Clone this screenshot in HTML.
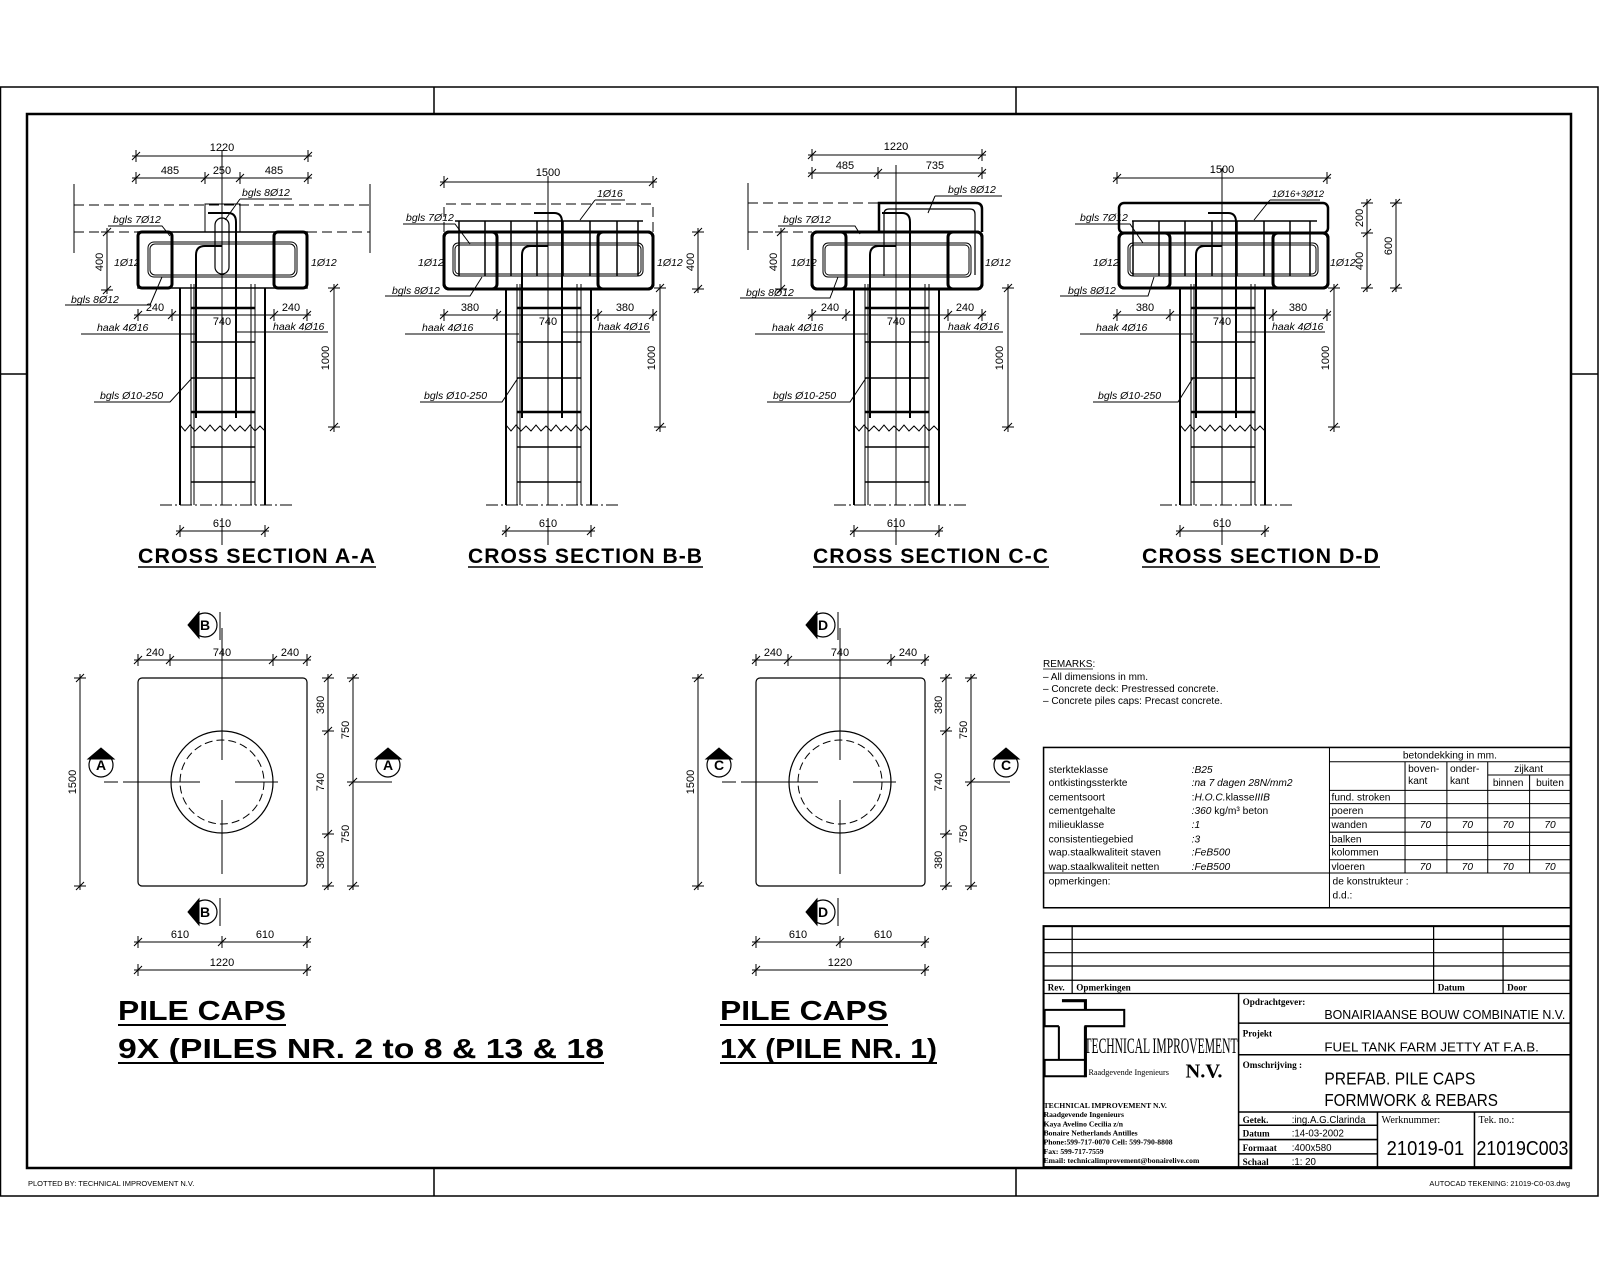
<!DOCTYPE html>
<html><head><meta charset="utf-8"><style>
html,body{margin:0;padding:0;background:#fff;}
svg{display:block;}
text{font-family:"Liberation Sans",sans-serif;fill:#000;stroke:none;}
.d{font-size:11px;}
.l{font-size:10.5px;font-style:italic;}
.tt{font-size:21px;font-weight:bold;letter-spacing:1px;}
.pc{font-size:28px;font-weight:bold;}
.s{font-size:10px;}
.sb{font-size:9px;font-family:"Liberation Serif",serif;font-weight:bold;}
</style></head><body>
<svg width="1600" height="1280" viewBox="0 0 1600 1280" xmlns="http://www.w3.org/2000/svg" fill="none" stroke="#000">
<defs>
<path id="th" d="M-4,4 L4,-4 M0,-6 V6" stroke-width="1"/>
<path id="tv" d="M-4,4 L4,-4 M-6,0 H6" stroke-width="1"/>
<g id="col">
<path d="M-42,288 V505 M43,288 V505" stroke-width="2"/>
<path d="M-31,284 V505 M-28,284 V505 M29,284 V505 M33,284 V505" stroke-width="1"/>
<path d="M-31,342 H33 M-31,378 H33 M-31,447 H33 M-31,482 H33" stroke-width="1.5"/>
<path d="M-31,308 H33 M-31,412 H33" stroke-width="2.5"/>
<path d="M-42,425 l5,6 l5,-6 l5,6 l5,-5 l5,5 l5,-6 l5,6 l5,-5 l5,5 l5,-6 l5,6 l5,-5 l5,5 l5,-6 l5,6 l5,-5 l5,5" stroke-width="1"/>
<path d="M0,288 V505" stroke-width="1"/>
<path d="M-62,505 H72" stroke-width="1" stroke-dasharray="12 3 2 3"/>
<path d="M-46,531 H47 M0,518 V545" stroke-width="1"/>
<use href="#th" x="-42" y="531"/><use href="#th" x="43" y="531"/>
<path d="M112,284 V432" stroke-width="1"/>
<use href="#tv" x="112" y="288"/><use href="#tv" x="112" y="427"/>
<path d="M-26,418 V255 Q-26,246 -17,246 H0 M14,418 V222 Q14,213 6,213 H-14" stroke-width="2"/>
</g>
</defs>

<path d="M0.5,87 H1598 V1196 H0.5 Z" stroke-width="1.5"/>
<rect x="27" y="114" width="1544" height="1054" stroke-width="2.5"/>
<path d="M434,87 V114 M1016,87 V114 M434,1168 V1196 M1016,1168 V1196 M0,374 H27 M1571,374 H1598" stroke-width="1.5"/>
<text x="28" y="1186" style="font-size:7.5px">PLOTTED BY:  TECHNICAL IMPROVEMENT N.V.</text>
<text x="1570" y="1186" text-anchor="end" style="font-size:7.5px">AUTOCAD TEKENING:  21019-C0-03.dwg</text>

<!-- SECTION A -->
<g transform="translate(222,0)"><use href="#col"/></g>
<path d="M132,156 H312 M132,178 H312 M222,150 V288" stroke-width="1"/>
<use href="#th" x="136" y="156"/><use href="#th" x="308" y="156"/>
<use href="#th" x="136" y="178"/><use href="#th" x="205" y="178"/><use href="#th" x="240" y="178"/><use href="#th" x="308" y="178"/>
<path d="M74,205 H370 M74,232 H138 M307,232 H370" stroke-width="1" stroke-dasharray="10 5"/>
<path d="M74,184 V253 M370,184 V253" stroke-width="1"/>
<path d="M205,232 V204 H240 V232" stroke-width="1"/>
<rect x="138" y="232" width="169" height="56" stroke-width="1.5"/>
<rect x="138" y="232" width="34" height="56" rx="4" stroke-width="3"/>
<rect x="274" y="232" width="33" height="56" rx="4" stroke-width="3"/>
<rect x="148" y="242" width="149" height="35" rx="6" stroke-width="1"/>
<rect x="150" y="244" width="145" height="31" rx="5" stroke-width="1"/>
<rect x="215" y="218" width="14" height="56" rx="7" stroke-width="1.2"/>
<path d="M107,228 V294" stroke-width="1"/><use href="#tv" x="107" y="232"/><use href="#tv" x="107" y="290"/>
<path d="M134,315 H311" stroke-width="1"/>
<use href="#th" x="138" y="315"/><use href="#th" x="172" y="315"/><use href="#th" x="274" y="315"/><use href="#th" x="307" y="315"/>
<path d="M240,199 H292 M240,199 L225,220 M108,226 H162 L170,236 M65,305 H150 L162,277 M81,334 H195 M236,332 H328 M94,402 H170 L192,378" stroke-width="1"/>
<text class="d" x="222" y="151" text-anchor="middle">1220</text>
<text class="d" x="170" y="174" text-anchor="middle">485</text>
<text class="d" x="222" y="174" text-anchor="middle">250</text>
<text class="d" x="274" y="174" text-anchor="middle">485</text>
<text class="l" x="242" y="196">bgls 8Ø12</text>
<text class="l" x="113" y="223">bgls 7Ø12</text>
<text class="l" x="114" y="266">1Ø12</text>
<text class="l" x="311" y="266">1Ø12</text>
<text class="d" transform="translate(103,262) rotate(-90)" text-anchor="middle">400</text>
<text class="l" x="71" y="303">bgls 8Ø12</text>
<text class="d" x="155" y="311" text-anchor="middle">240</text>
<text class="d" x="222" y="325" text-anchor="middle">740</text>
<text class="d" x="291" y="311" text-anchor="middle">240</text>
<text class="l" x="97" y="331">haak 4Ø16</text>
<text class="l" x="273" y="330">haak 4Ø16</text>
<text class="d" transform="translate(329,358) rotate(-90)" text-anchor="middle">1000</text>
<text class="l" x="100" y="399">bgls Ø10-250</text>
<text class="d" x="222" y="527" text-anchor="middle">610</text>
<text class="tt" x="138" y="563" textLength="238" lengthAdjust="spacingAndGlyphs">CROSS SECTION A-A</text>
<path d="M138,567 H376" stroke-width="1.5"/>

<!-- SECTION B -->
<g transform="translate(548,0)"><use href="#col"/></g>
<path d="M440,182 H657 M548,176 V288" stroke-width="1"/>
<use href="#th" x="444" y="182"/><use href="#th" x="653" y="182"/>
<path d="M444,232 V204 H653 V232" stroke-width="1" stroke-dasharray="10 5"/>
<rect x="444" y="232" width="209" height="57" rx="5" stroke-width="3"/>
<rect x="444" y="232" width="53" height="57" rx="5" stroke-width="3"/>
<rect x="598" y="232" width="55" height="57" rx="5" stroke-width="3"/>
<path d="M455,221 H643" stroke-width="1.5"/>
<path d="M459,221 V276 M485,221 V276 M511,221 V276 M537,221 V276 M563,221 V276 M590,221 V276 M617,221 V276 M638,221 V276" stroke-width="1.5"/>
<rect x="453" y="243" width="190" height="33" rx="5" stroke-width="1"/>
<rect x="455" y="245" width="186" height="29" rx="4" stroke-width="1"/>
<path d="M698,228 V293" stroke-width="1"/><use href="#tv" x="698" y="232"/><use href="#tv" x="698" y="289"/>
<path d="M440,315 H657" stroke-width="1"/>
<use href="#th" x="444" y="315"/><use href="#th" x="497" y="315"/><use href="#th" x="598" y="315"/><use href="#th" x="653" y="315"/>
<path d="M595,200 H625 M595,200 L580,220 M403,224 H455 L470,244 M385,296 H470 L482,277 M405,334 H519 M562,332 H650 M420,402 H502 L518,378" stroke-width="1"/>
<text class="d" x="548" y="176" text-anchor="middle">1500</text>
<text class="l" x="597" y="197">1Ø16</text>
<text class="l" x="406" y="221">bgls 7Ø12</text>
<text class="l" x="418" y="266">1Ø12</text>
<text class="l" x="657" y="266">1Ø12</text>
<text class="d" transform="translate(694,262) rotate(-90)" text-anchor="middle">400</text>
<text class="l" x="392" y="294">bgls 8Ø12</text>
<text class="d" x="470" y="311" text-anchor="middle">380</text>
<text class="d" x="548" y="325" text-anchor="middle">740</text>
<text class="d" x="625" y="311" text-anchor="middle">380</text>
<text class="l" x="422" y="331">haak 4Ø16</text>
<text class="l" x="598" y="330">haak 4Ø16</text>
<text class="d" transform="translate(655,358) rotate(-90)" text-anchor="middle">1000</text>
<text class="l" x="424" y="399">bgls Ø10-250</text>
<text class="d" x="548" y="527" text-anchor="middle">610</text>
<text class="tt" x="468" y="563" textLength="235" lengthAdjust="spacingAndGlyphs">CROSS SECTION B-B</text>
<path d="M468,567 H703" stroke-width="1.5"/>

<!-- SECTION C -->
<g transform="translate(896,0)"><use href="#col"/></g>
<path d="M808,155 H986 M808,173 H986 M896,165 V288" stroke-width="1"/>
<use href="#th" x="812" y="155"/><use href="#th" x="982" y="155"/>
<use href="#th" x="812" y="173"/><use href="#th" x="878" y="173"/><use href="#th" x="982" y="173"/>
<path d="M748,203 H879 M748,232 H812" stroke-width="1" stroke-dasharray="10 5"/>
<path d="M748,183 V250" stroke-width="1"/>
<path d="M879,232 V203 H976 Q982,203 982,209 V232" stroke-width="2.5"/>
<rect x="812" y="232" width="170" height="57" rx="5" stroke-width="3"/>
<rect x="812" y="232" width="34" height="57" rx="5" stroke-width="3"/>
<rect x="948" y="232" width="34" height="57" rx="5" stroke-width="3"/>
<rect x="823" y="243" width="148" height="34" rx="5" stroke-width="1"/>
<rect x="825" y="245" width="144" height="30" rx="4" stroke-width="1"/>
<path d="M884,276 V214 Q884,209 889,209 H970 Q975,209 975,214 V275" stroke-width="1.2"/>
<path d="M781,228 V293" stroke-width="1"/><use href="#tv" x="781" y="232"/><use href="#tv" x="781" y="289"/>
<path d="M808,315 H986" stroke-width="1"/>
<use href="#th" x="812" y="315"/><use href="#th" x="846" y="315"/><use href="#th" x="948" y="315"/><use href="#th" x="982" y="315"/>
<path d="M935,196 H1002 M935,196 L928,213 M778,226 H855 L860,234 M740,298 H830 L838,277 M755,334 H868 M909,332 H1003 M767,402 H850 L866,378" stroke-width="1"/>
<text class="d" x="896" y="150" text-anchor="middle">1220</text>
<text class="d" x="845" y="169" text-anchor="middle">485</text>
<text class="d" x="935" y="169" text-anchor="middle">735</text>
<text class="l" x="948" y="193">bgls 8Ø12</text>
<text class="l" x="783" y="223">bgls 7Ø12</text>
<text class="l" x="791" y="266">1Ø12</text>
<text class="l" x="985" y="266">1Ø12</text>
<text class="d" transform="translate(777,262) rotate(-90)" text-anchor="middle">400</text>
<text class="l" x="746" y="296">bgls 8Ø12</text>
<text class="d" x="830" y="311" text-anchor="middle">240</text>
<text class="d" x="896" y="325" text-anchor="middle">740</text>
<text class="d" x="965" y="311" text-anchor="middle">240</text>
<text class="l" x="772" y="331">haak 4Ø16</text>
<text class="l" x="948" y="330">haak 4Ø16</text>
<text class="d" transform="translate(1003,358) rotate(-90)" text-anchor="middle">1000</text>
<text class="l" x="773" y="399">bgls Ø10-250</text>
<text class="d" x="896" y="527" text-anchor="middle">610</text>
<text class="tt" x="813" y="563" textLength="236" lengthAdjust="spacingAndGlyphs">CROSS SECTION C-C</text>
<path d="M813,567 H1049" stroke-width="1.5"/>

<!-- SECTION D -->
<g transform="translate(1222,0)"><use href="#col"/></g>
<path d="M1113,178 H1331 M1222,168 V288" stroke-width="1"/>
<use href="#th" x="1117" y="178"/><use href="#th" x="1327" y="178"/>
<rect x="1119" y="203" width="209" height="30" rx="5" stroke-width="2.5"/>
<rect x="1119" y="233" width="209" height="55" rx="5" stroke-width="3"/>
<rect x="1119" y="233" width="51" height="55" rx="5" stroke-width="3"/>
<rect x="1273" y="233" width="55" height="55" rx="5" stroke-width="3"/>
<path d="M1132,221 H1317" stroke-width="1.5"/>
<path d="M1133,221 V276 M1159,221 V276 M1185,221 V276 M1212,221 V276 M1237,221 V276 M1264,221 V276 M1290,221 V276 M1310,221 V276" stroke-width="1.5"/>
<rect x="1128" y="243" width="190" height="33" rx="5" stroke-width="1"/>
<rect x="1130" y="245" width="186" height="29" rx="4" stroke-width="1"/>
<path d="M1367,199 V292 M1396,199 V292" stroke-width="1"/>
<use href="#tv" x="1367" y="203"/><use href="#tv" x="1367" y="233"/><use href="#tv" x="1367" y="288"/>
<use href="#tv" x="1396" y="203"/><use href="#tv" x="1396" y="288"/>
<path d="M1113,315 H1331" stroke-width="1"/>
<use href="#th" x="1117" y="315"/><use href="#th" x="1170" y="315"/><use href="#th" x="1273" y="315"/><use href="#th" x="1327" y="315"/>
<path d="M1270,200 H1320 M1270,200 L1254,220 M1075,224 H1130 L1143,243 M1060,296 H1148 L1154,277 M1080,334 H1193 M1237,332 H1325 M1093,402 H1178 L1193,378" stroke-width="1"/>
<text class="d" x="1222" y="173" text-anchor="middle">1500</text>
<text class="l" x="1272" y="197" style="font-size:9.5px">1Ø16+3Ø12</text>
<text class="l" x="1080" y="221">bgls 7Ø12</text>
<text class="l" x="1093" y="266">1Ø12</text>
<text class="l" x="1330" y="266">1Ø12</text>
<text class="d" transform="translate(1363,218) rotate(-90)" text-anchor="middle">200</text>
<text class="d" transform="translate(1363,261) rotate(-90)" text-anchor="middle">400</text>
<text class="d" transform="translate(1392,246) rotate(-90)" text-anchor="middle">600</text>
<text class="l" x="1068" y="294">bgls 8Ø12</text>
<text class="d" x="1145" y="311" text-anchor="middle">380</text>
<text class="d" x="1222" y="325" text-anchor="middle">740</text>
<text class="d" x="1298" y="311" text-anchor="middle">380</text>
<text class="l" x="1096" y="331">haak 4Ø16</text>
<text class="l" x="1272" y="330">haak 4Ø16</text>
<text class="d" transform="translate(1329,358) rotate(-90)" text-anchor="middle">1000</text>
<text class="l" x="1098" y="399">bgls Ø10-250</text>
<text class="d" x="1222" y="527" text-anchor="middle">610</text>
<text class="tt" x="1142" y="563" textLength="238" lengthAdjust="spacingAndGlyphs">CROSS SECTION D-D</text>
<path d="M1142,567 H1380" stroke-width="1.5"/>

<!-- PLAN 1 -->
<g id="plan">
<rect x="138" y="678" width="169" height="208" rx="4" stroke-width="1.2"/>
<circle cx="222" cy="782" r="51" stroke-width="1.2"/>
<circle cx="222" cy="782" r="42" stroke-width="1" stroke-dasharray="8 4"/>
<path d="M222,628 V760 M222,800 V874 M123,782 H200 M235,782 H278" stroke-width="1"/>
<path d="M134,660 H311 M80,674 V890 M328,674 V890 M353,674 V890 M134,942 H311 M134,970 H311" stroke-width="1"/>
<use href="#th" x="138" y="660"/><use href="#th" x="170" y="660"/><use href="#th" x="273" y="660"/><use href="#th" x="307" y="660"/>
<use href="#tv" x="80" y="678"/><use href="#tv" x="80" y="886"/>
<use href="#tv" x="328" y="678"/><use href="#tv" x="328" y="731"/><use href="#tv" x="328" y="834"/><use href="#tv" x="328" y="886"/>
<use href="#tv" x="353" y="678"/><use href="#tv" x="353" y="782"/><use href="#tv" x="353" y="886"/>
<use href="#th" x="138" y="942"/><use href="#th" x="222" y="942"/><use href="#th" x="307" y="942"/>
<use href="#th" x="138" y="970"/><use href="#th" x="307" y="970"/>
<circle cx="205" cy="625" r="12" stroke-width="1.2"/><path d="M188,625 L199,612 L199,638 Z" fill="#000"/>
<circle cx="205" cy="912" r="12" stroke-width="1.2"/><path d="M188,912 L199,899 L199,925 Z" fill="#000"/>
<circle cx="101" cy="765" r="12" stroke-width="1.2"/><path d="M101,748 L88,759 L114,759 Z" fill="#000"/>
<circle cx="388" cy="765" r="12" stroke-width="1.2"/><path d="M388,748 L375,759 L401,759 Z" fill="#000"/>
<path d="M220,612 V640 M220,898 V926 M104,782 H118 M375,782 H392 M353,782 H378" stroke-width="1"/>
</g>
<text class="d" x="155" y="656" text-anchor="middle">240</text>
<text class="d" x="222" y="656" text-anchor="middle">740</text>
<text class="d" x="290" y="656" text-anchor="middle">240</text>
<text class="d" transform="translate(76,782) rotate(-90)" text-anchor="middle">1500</text>
<text class="d" transform="translate(324,705) rotate(-90)" text-anchor="middle">380</text>
<text class="d" transform="translate(324,782) rotate(-90)" text-anchor="middle">740</text>
<text class="d" transform="translate(324,860) rotate(-90)" text-anchor="middle">380</text>
<text class="d" transform="translate(349,730) rotate(-90)" text-anchor="middle">750</text>
<text class="d" transform="translate(349,834) rotate(-90)" text-anchor="middle">750</text>
<text class="d" x="180" y="938" text-anchor="middle">610</text>
<text class="d" x="265" y="938" text-anchor="middle">610</text>
<text class="d" x="222" y="966" text-anchor="middle">1220</text>
<text x="205" y="630" text-anchor="middle" style="font-size:14px;font-weight:bold">B</text>
<text x="205" y="917" text-anchor="middle" style="font-size:14px;font-weight:bold">B</text>
<text x="101" y="770" text-anchor="middle" style="font-size:14px;font-weight:bold">A</text>
<text x="388" y="770" text-anchor="middle" style="font-size:14px;font-weight:bold">A</text>

<!-- PLAN 2 -->
<g transform="translate(618,0)"><use href="#plan"/></g>
<text class="d" x="773" y="656" text-anchor="middle">240</text>
<text class="d" x="840" y="656" text-anchor="middle">740</text>
<text class="d" x="908" y="656" text-anchor="middle">240</text>
<text class="d" transform="translate(694,782) rotate(-90)" text-anchor="middle">1500</text>
<text class="d" transform="translate(942,705) rotate(-90)" text-anchor="middle">380</text>
<text class="d" transform="translate(942,782) rotate(-90)" text-anchor="middle">740</text>
<text class="d" transform="translate(942,860) rotate(-90)" text-anchor="middle">380</text>
<text class="d" transform="translate(967,730) rotate(-90)" text-anchor="middle">750</text>
<text class="d" transform="translate(967,834) rotate(-90)" text-anchor="middle">750</text>
<text class="d" x="798" y="938" text-anchor="middle">610</text>
<text class="d" x="883" y="938" text-anchor="middle">610</text>
<text class="d" x="840" y="966" text-anchor="middle">1220</text>
<text x="823" y="630" text-anchor="middle" style="font-size:14px;font-weight:bold">D</text>
<text x="823" y="917" text-anchor="middle" style="font-size:14px;font-weight:bold">D</text>
<text x="719" y="770" text-anchor="middle" style="font-size:14px;font-weight:bold">C</text>
<text x="1006" y="770" text-anchor="middle" style="font-size:14px;font-weight:bold">C</text>

<text class="pc" x="118" y="1020" textLength="168" lengthAdjust="spacingAndGlyphs">PILE CAPS</text>
<path d="M118,1025 H286" stroke-width="2"/>
<text class="pc" x="118" y="1058" textLength="486" lengthAdjust="spacingAndGlyphs">9X (PILES NR. 2 to 8 &amp; 13 &amp; 18</text>
<path d="M118,1063 H604" stroke-width="2"/>
<text class="pc" x="720" y="1020" textLength="168" lengthAdjust="spacingAndGlyphs">PILE CAPS</text>
<path d="M720,1025 H888" stroke-width="2"/>
<text class="pc" x="720" y="1058" textLength="217" lengthAdjust="spacingAndGlyphs">1X (PILE NR. 1)</text>
<path d="M720,1063 H937" stroke-width="2"/>

<text class="s" x="1043" y="667">REMARKS:</text>
<path d="M1043,669 H1093" stroke-width="0.8"/>
<text class="s" x="1043" y="680">–  All dimensions in mm.</text>
<text class="s" x="1043" y="692">–  Concrete deck: Prestressed concrete.</text>
<text class="s" x="1043" y="704">–  Concrete piles caps: Precast concrete.</text>

<g transform="scale(1.0211)">
<rect x="1022" y="732" width="516" height="157" stroke-width="1.5"/>
<path d="M1302,732 V855 M1022,855 H1538 M1302,746 H1538 M1302,774 H1538 M1302,787 H1538 M1302,801 H1538 M1302,815 H1538 M1302,828 H1538 M1302,842 H1538 M1457,759 H1538 M1376,746 V855 M1417,746 V855 M1457,746 V855 M1498,759 V855 M1302,855 V889" stroke-width="1"/>
<g>
<text x="1027" y="757" class="s">sterkteklasse</text>
<text x="1027" y="770" class="s">ontkistingssterkte</text>
<text x="1027" y="784" class="s">cementsoort</text>
<text x="1027" y="797" class="s">cementgehalte</text>
<text x="1027" y="811" class="s">milieuklasse</text>
<text x="1027" y="825" class="s">consistentiegebied</text>
<text x="1027" y="838" class="s">wap.staalkwaliteit  staven</text>
<text x="1027" y="852" class="s">wap.staalkwaliteit  netten</text>
<text x="1167" y="757" class="s" font-style="italic">:B25</text>
<text x="1167" y="770" class="s" font-style="italic">:na 7 dagen 28N/mm2</text>
<text x="1167" y="784" class="s">:<tspan font-style="italic">H.O.C.</tspan>klasse<tspan font-style="italic">IIIB</tspan></text>
<text x="1167" y="797" class="s"><tspan font-style="italic">:360</tspan>  kg/m³  beton</text>
<text x="1167" y="811" class="s" font-style="italic">:1</text>
<text x="1167" y="825" class="s" font-style="italic">:3</text>
<text x="1167" y="838" class="s" font-style="italic">:FeB500</text>
<text x="1167" y="852" class="s" font-style="italic">:FeB500</text>
<text x="1027" y="866" class="s">opmerkingen:</text>
<text x="1420" y="743" class="s" text-anchor="middle">betondekking in mm.</text>
<text x="1379" y="756" class="s">boven-</text><text x="1379" y="768" class="s">kant</text>
<text x="1420" y="756" class="s">onder-</text><text x="1420" y="768" class="s">kant</text>
<text x="1497" y="756" class="s" text-anchor="middle">zijkant</text>
<text x="1477" y="770" class="s" text-anchor="middle">binnen</text>
<text x="1518" y="770" class="s" text-anchor="middle">buiten</text>
<text x="1304" y="784" class="s">fund. stroken</text>
<text x="1304" y="797" class="s">poeren</text>
<text x="1304" y="811" class="s">wanden</text>
<text x="1304" y="825" class="s">balken</text>
<text x="1304" y="838" class="s">kolommen</text>
<text x="1304" y="852" class="s">vloeren</text>
<text x="1396" y="811" class="s" text-anchor="middle" font-style="italic">70</text>
<text x="1437" y="811" class="s" text-anchor="middle" font-style="italic">70</text>
<text x="1477" y="811" class="s" text-anchor="middle" font-style="italic">70</text>
<text x="1518" y="811" class="s" text-anchor="middle" font-style="italic">70</text>
<text x="1396" y="852" class="s" text-anchor="middle" font-style="italic">70</text>
<text x="1437" y="852" class="s" text-anchor="middle" font-style="italic">70</text>
<text x="1477" y="852" class="s" text-anchor="middle" font-style="italic">70</text>
<text x="1518" y="852" class="s" text-anchor="middle" font-style="italic">70</text>
<text x="1305" y="866" class="s">de konstrukteur :</text>
<text x="1305" y="880" class="s">d.d.:</text>
</g>
<rect x="1022" y="907" width="516" height="236" stroke-width="2"/>
<path d="M1022,920 H1538 M1022,933 H1538 M1022,946 H1538 M1022,960 H1538 M1022,973 H1538 M1050,907 V973 M1404,907 V973 M1472,907 V973" stroke-width="1.2"/>
<text class="sb" x="1026" y="970">Rev.</text>
<text class="sb" x="1054" y="970">Opmerkingen</text>
<text class="sb" x="1408" y="970">Datum</text>
<text class="sb" x="1476" y="970">Door</text>
<path d="M1213,973 V1143 M1213,1002 H1538 M1213,1033 H1538 M1213,1089 H1538 M1213,1102 H1349 M1213,1116 H1349 M1213,1130 H1349 M1349,1089 V1143 M1444,1089 V1143" stroke-width="1.5"/>
<text class="sb" x="1217" y="984">Opdrachtgever:</text>
<text x="1297" y="998" style="font-size:12.5px" textLength="236" lengthAdjust="spacingAndGlyphs">BONAIRIAANSE BOUW COMBINATIE N.V.</text>
<text class="sb" x="1217" y="1015">Projekt</text>
<text x="1297" y="1030" style="font-size:12.5px" textLength="210" lengthAdjust="spacingAndGlyphs">FUEL TANK FARM JETTY AT F.A.B.</text>
<text class="sb" x="1217" y="1046">Omschrijving  :</text>
<text x="1297" y="1062" style="font-size:17px" textLength="148" lengthAdjust="spacingAndGlyphs">PREFAB. PILE CAPS</text>
<text x="1297" y="1083" style="font-size:17px" textLength="170" lengthAdjust="spacingAndGlyphs">FORMWORK &amp; REBARS</text>
<text class="sb" x="1217" y="1100">Getek.</text><text x="1265" y="1100" style="font-size:9.5px">:ing.A.G.Clarinda</text>
<text class="sb" x="1217" y="1113">Datum</text><text x="1265" y="1113" style="font-size:9.5px">:14-03-2002</text>
<text class="sb" x="1217" y="1127">Formaat</text><text x="1265" y="1127" style="font-size:9.5px">:400x580</text>
<text class="sb" x="1217" y="1141">Schaal</text><text x="1265" y="1141" style="font-size:9.5px">:1: 20</text>
<text x="1353" y="1100" style="font-size:10px;font-family:'Liberation Serif',serif">Werknummer:</text>
<text x="1448" y="1100" style="font-size:10px;font-family:'Liberation Serif',serif">Tek. no.:</text>
<text x="1396" y="1131" text-anchor="middle" style="font-size:20px" textLength="76" lengthAdjust="spacingAndGlyphs">21019-01</text>
<text x="1491" y="1131" text-anchor="middle" style="font-size:20px" textLength="90" lengthAdjust="spacingAndGlyphs">21019C003</text>
<path d="M1023,989 H1101 V1005 H1063 V1038 H1023 V1054 H1063 M1037,1005 H1023 V989 M1037,1005 V1038" stroke-width="2"/>
<path d="M1040,980 H1063 V989 M1063,1005 V1055" stroke-width="3"/>
<text x="1062" y="1031" style="font-family:'Liberation Serif',serif;font-size:22px" textLength="150" lengthAdjust="spacingAndGlyphs">TECHNICAL IMPROVEMENT</text>
<text x="1066" y="1053" style="font-family:'Liberation Serif',serif;font-size:8px">Raadgevende Ingenieurs</text>
<text x="1161" y="1055" style="font-family:'Liberation Serif',serif;font-size:20px;font-weight:bold">N.V.</text>
<text class="sb" x="1022" y="1085" style="font-size:7.5px">TECHNICAL IMPROVEMENT N.V.</text>
<text class="sb" x="1022" y="1094" style="font-size:7.5px">Raadgevende Ingenieurs</text>
<text class="sb" x="1022" y="1103" style="font-size:7.5px">Kaya Avelino Cecilia z/n</text>
<text class="sb" x="1022" y="1112" style="font-size:7.5px">Bonaire Netherlands Antilles</text>
<text class="sb" x="1022" y="1121" style="font-size:7.5px">Phone:599-717-0070 Cell: 599-790-8808</text>
<text class="sb" x="1022" y="1130" style="font-size:7.5px">Fax: 599-717-7559</text>
<text class="sb" x="1022" y="1139" style="font-size:7.5px">Email: technicalimprovement@bonairelive.com</text>
</g>
</svg>
</body></html>
